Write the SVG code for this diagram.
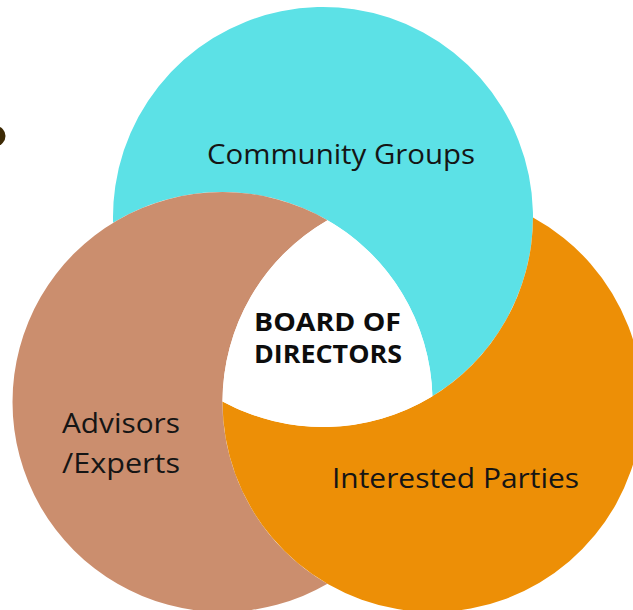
<svg xmlns="http://www.w3.org/2000/svg" width="633" height="610" viewBox="0 0 633 610">
  <style>
    .lbl { font-family: "Open Sans", "Liberation Sans", sans-serif; font-size: 27px; fill: #151515; }
    .bold { font-family: "Open Sans", "Liberation Sans", sans-serif; font-size: 25px; font-weight: 700; fill: #0d0d0d; }
    .cyan { fill: #5CE1E6; }
    .brown { fill: #CB8E6E; }
    .orange { fill: #ED8F06; }
  </style>
  <rect width="633" height="610" fill="#ffffff"/>
  <ellipse cx="-4" cy="136" rx="9.5" ry="10" fill="#3d2a05"/>

  <g id="node-community">
    <path class="cyan" d="M 113.08 222.76 A 210 210 0 1 1 432.42 396.24 A 210 210 0 0 0 113.08 222.76 Z"/>
    <text class="lbl" x="207" y="164" textLength="268" lengthAdjust="spacingAndGlyphs">Community Groups</text>
  </g>
  <g id="node-advisors">
    <path class="brown" d="M 327.5 220.13 A 210 210 0 1 0 327.5 583.87 A 210 210 0 0 1 327.5 220.13 Z"/>
    <text class="lbl" x="62" y="433" textLength="118" lengthAdjust="spacingAndGlyphs">Advisors</text>
    <text class="lbl" x="62" y="473" textLength="118" lengthAdjust="spacingAndGlyphs">/Experts</text>
  </g>
  <g id="node-parties">
    <path class="orange" d="M 533 217.61 A 210 210 0 1 1 222.5 401.39 A 210 210 0 0 0 533 217.61 Z"/>
    <text class="lbl" x="332" y="488" textLength="247" lengthAdjust="spacingAndGlyphs">Interested Parties</text>
  </g>
  <g id="node-board">
    <path fill="#ffffff" d="M 327.5 220.13 A 210 210 0 0 1 432.42 396.24 A 210 210 0 0 1 222.5 401.39 A 210 210 0 0 1 327.5 220.13 Z"/>
    <text class="bold" x="254" y="331" textLength="147" lengthAdjust="spacingAndGlyphs">BOARD OF</text>
    <text class="bold" x="254" y="363" textLength="148" lengthAdjust="spacingAndGlyphs">DIRECTORS</text>
  </g>
  <g id="connectors"></g>
</svg>
